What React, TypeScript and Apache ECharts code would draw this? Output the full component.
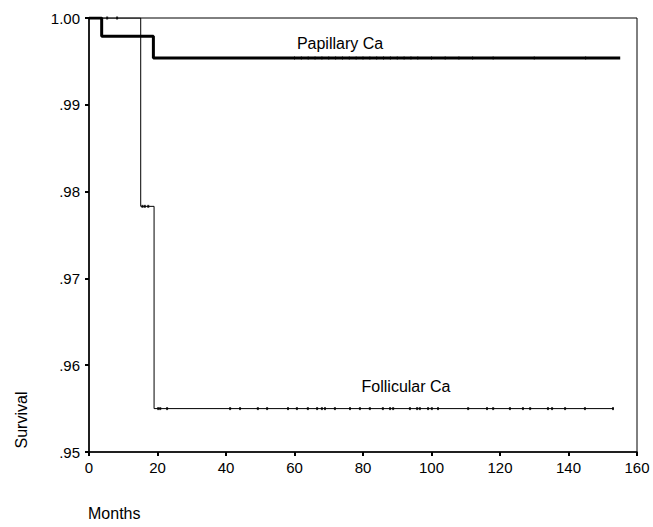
import React, { useEffect, useRef } from "react";
import * as echarts from "echarts";

// Kaplan-Meier step points [months, survival]
const papillaryCurve: [number, number][] = [
  [0, 1.0],
  [3.7, 0.9979],
  [18.8, 0.9954],
  [155.1, 0.9954],
];
const follicularCurve: [number, number][] = [
  [0, 1.0],
  [15.1, 0.9783],
  [19.0, 0.955],
  [153.2, 0.955],
];
// censored observations (months)
const follicularCensorTop = [5.3, 8.2];
const follicularCensorMid = [15.6, 16.3, 17.3];
const follicularCensorLow = [
  20.2, 20.8, 22.8, 41.2, 44.1, 49.3, 52, 58.1, 60.7, 63.9, 66.6, 68, 68.9, 71.8,
  76.2, 79.1, 82, 85.8, 87.9, 88.8, 93.7, 95.8, 96.6, 99, 100.1, 101.9, 110.7,
  116.2, 118, 122.9, 126.7, 128.8, 134, 135.2, 139, 144.8, 153,
];
const papillaryCensor = [
  60, 62, 64, 66, 68, 70, 72, 74, 76, 78, 80, 82, 84, 86, 88, 90, 92, 94, 96,
  100, 104, 108, 112, 118, 130, 145,
];
const yTicks = [0.95, 0.96, 0.97, 0.98, 0.99, 1.0];
const xTicks = [0, 20, 40, 60, 80, 100, 120, 140, 160];

const FONT = "'Liberation Sans', Arial, sans-serif";

export default function App() {
  const ref = useRef<HTMLDivElement>(null);
  useEffect(() => {
    document.body.style.margin = "0";
    if (!ref.current) return;
    const chart = echarts.init(ref.current, undefined, { renderer: "svg" });
    const censorStyle = { color: "#000" };
    chart.setOption({
      animation: false,
      backgroundColor: "#fff",
      grid: {
        left: 89,
        right: 16,
        top: 18,
        bottom: 75,
        show: true,
        borderColor: "#000",
        borderWidth: 1,
      },
      xAxis: {
        type: "value",
        min: xTicks[0],
        max: xTicks[xTicks.length - 1],
        interval: 20,
        splitLine: { show: false },
        axisLine: { lineStyle: { color: "#000", width: 1.5 } },
        axisTick: { show: true, inside: false, length: 4, lineStyle: { color: "#000", width: 2 } },
        axisLabel: { color: "#000", fontSize: 15, fontFamily: FONT, margin: 8 },
      },
      yAxis: {
        type: "value",
        min: yTicks[0],
        max: yTicks[yTicks.length - 1],
        interval: 0.01,
        splitLine: { show: false },
        axisLine: { lineStyle: { color: "#000", width: 1.5 } },
        axisTick: { show: true, inside: false, length: 4, lineStyle: { color: "#000", width: 2 } },
        axisLabel: {
          color: "#000",
          fontSize: 15,
          fontFamily: FONT,
          margin: 9,
          formatter: (v: number) =>
            Math.abs(v - 1) < 1e-9 ? "1.00" : v.toFixed(2).replace(/^0/, ""),
        },
      },
      graphic: [
        {
          type: "text",
          x: 21,
          y: 420,
          rotation: Math.PI / 2,
          style: {
            text: "Survival",
            fontSize: 16,
            fontFamily: FONT,
            fill: "#000",
            textAlign: "center",
            textVerticalAlign: "middle",
          },
        },
        {
          type: "text",
          x: 88,
          y: 513,
          style: {
            text: "Months",
            fontSize: 16,
            fontFamily: FONT,
            fill: "#000",
            textAlign: "left",
            textVerticalAlign: "middle",
          },
        },
        {
          type: "text",
          x: 340,
          y: 43,
          style: {
            text: "Papillary Ca",
            fontSize: 16,
            fontFamily: FONT,
            fill: "#000",
            textAlign: "center",
            textVerticalAlign: "middle",
          },
        },
        {
          type: "text",
          x: 406,
          y: 386,
          style: {
            text: "Follicular Ca",
            fontSize: 16,
            fontFamily: FONT,
            fill: "#000",
            textAlign: "center",
            textVerticalAlign: "middle",
          },
        },
      ],
      series: [
        {
          name: "Follicular Ca",
          type: "line",
          step: "end",
          data: follicularCurve,
          showSymbol: false,
          lineStyle: { color: "#000", width: 1 },
          z: 3,
        },
        {
          name: "Papillary Ca",
          type: "line",
          step: "end",
          data: papillaryCurve,
          showSymbol: false,
          lineStyle: { color: "#000", width: 3 },
          z: 4,
        },
        {
          name: "Follicular censored",
          type: "scatter",
          symbol: "rect",
          symbolSize: [2, 3],
          itemStyle: censorStyle,
          data: [
            ...follicularCensorTop.map((m) => [m, follicularCurve[0][1]]),
            ...follicularCensorMid.map((m) => [m, follicularCurve[1][1]]),
            ...follicularCensorLow.map((m) => [m, follicularCurve[2][1]]),
          ],
          z: 5,
        },
        {
          name: "Papillary censored",
          type: "scatter",
          symbol: "rect",
          symbolSize: [1, 4],
          itemStyle: { color: "#666" },
          data: papillaryCensor.map((m) => [m, papillaryCurve[2][1]]),
          z: 3,
        },
      ],
    });
    return () => chart.dispose();
  }, []);
  return <div ref={ref} style={{ width: 653, height: 527 }} />;
}
